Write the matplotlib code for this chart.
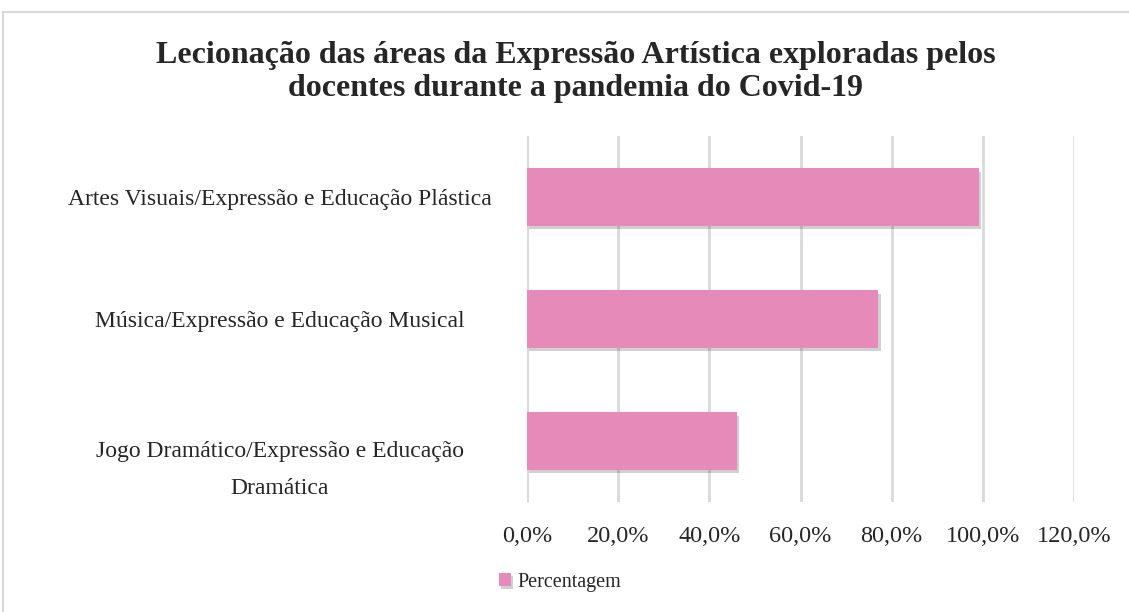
import matplotlib.pyplot as plt
import matplotlib.patheffects as pe
from matplotlib.patches import Rectangle
from matplotlib.ticker import FuncFormatter

plt.rcParams['font.family'] = ['Liberation Serif', 'DejaVu Serif']

# data (top to bottom as in the chart)
categories = ["Artes Visuais/Expressão e Educação Plástica",
              "Música/Expressão e Educação Musical",
              "Jogo Dramático/Expressão e Educação\nDramática"]
percentages = [0.992, 0.771, 0.461]
series_name = "Percentagem"
title = "Lecionação das áreas da Expressão Artística exploradas pelos\ndocentes durante a pandemia do Covid-19"

bar_color = '#E68BB9'
grid_color = '#D9D9D9'

fig = plt.figure(figsize=(11.29, 6.12), dpi=100)
ax = fig.add_axes([0.4668, 0.1797, 0.4845, 0.5981])

ypos = list(range(len(categories)))
bars = ax.barh(ypos, percentages, height=0.47, color=bar_color, label=series_name, zorder=3)
for b in bars:
    b.set_path_effects([pe.SimplePatchShadow(offset=(1.5, -2.5), alpha=0.25, shadow_rgbFace='#444444'),
                        pe.Normal()])

ax.set_xlim(0, 1.2)
ax.set_ylim(2.5, -0.5)
ax.set_xticks([0, 0.2, 0.4, 0.6, 0.8, 1.0, 1.2])
ax.xaxis.set_major_formatter(FuncFormatter(lambda v, p: f"{v*100:.1f}%".replace('.', ',')))
ax.set_yticks(ypos)
ax.set_yticklabels(categories, ha='center', multialignment='center', linespacing=2.0)
# wrapped label hangs below its bar, as in the original
for lbl in ax.get_yticklabels():
    if '\n' in lbl.get_text():
        lbl.set_va('top')

ax.grid(axis='x', color=grid_color, linewidth=2, zorder=0)
for s in ax.spines.values():
    s.set_visible(False)
ax.axvline(0, color=grid_color, linewidth=2, zorder=1)

ax.tick_params(axis='y', length=0, pad=178, labelsize=17, labelcolor='#262626')
ax.tick_params(axis='x', length=0, pad=17, labelsize=17.5, labelcolor='#262626')

fig.text(0.51, 0.882, title, ha='center', va='center', fontsize=23, fontweight='bold',
         color='#262626', linespacing=1.2)

leg = fig.legend(loc='center', bbox_to_anchor=(0.496, 0.049), frameon=False,
                 fontsize=14.5, handlelength=0.6, handleheight=0.6, handletextpad=0.3)
for t in leg.get_texts():
    t.set_color('#262626')

# outer chart border
fig.patches.append(Rectangle((3 / 1129, -0.01), 1.0, 1.0 - 12 / 612 + 0.01,
                             transform=fig.transFigure, fill=False,
                             edgecolor=grid_color, linewidth=1.5))

fig.savefig('out.png', dpi=100)
